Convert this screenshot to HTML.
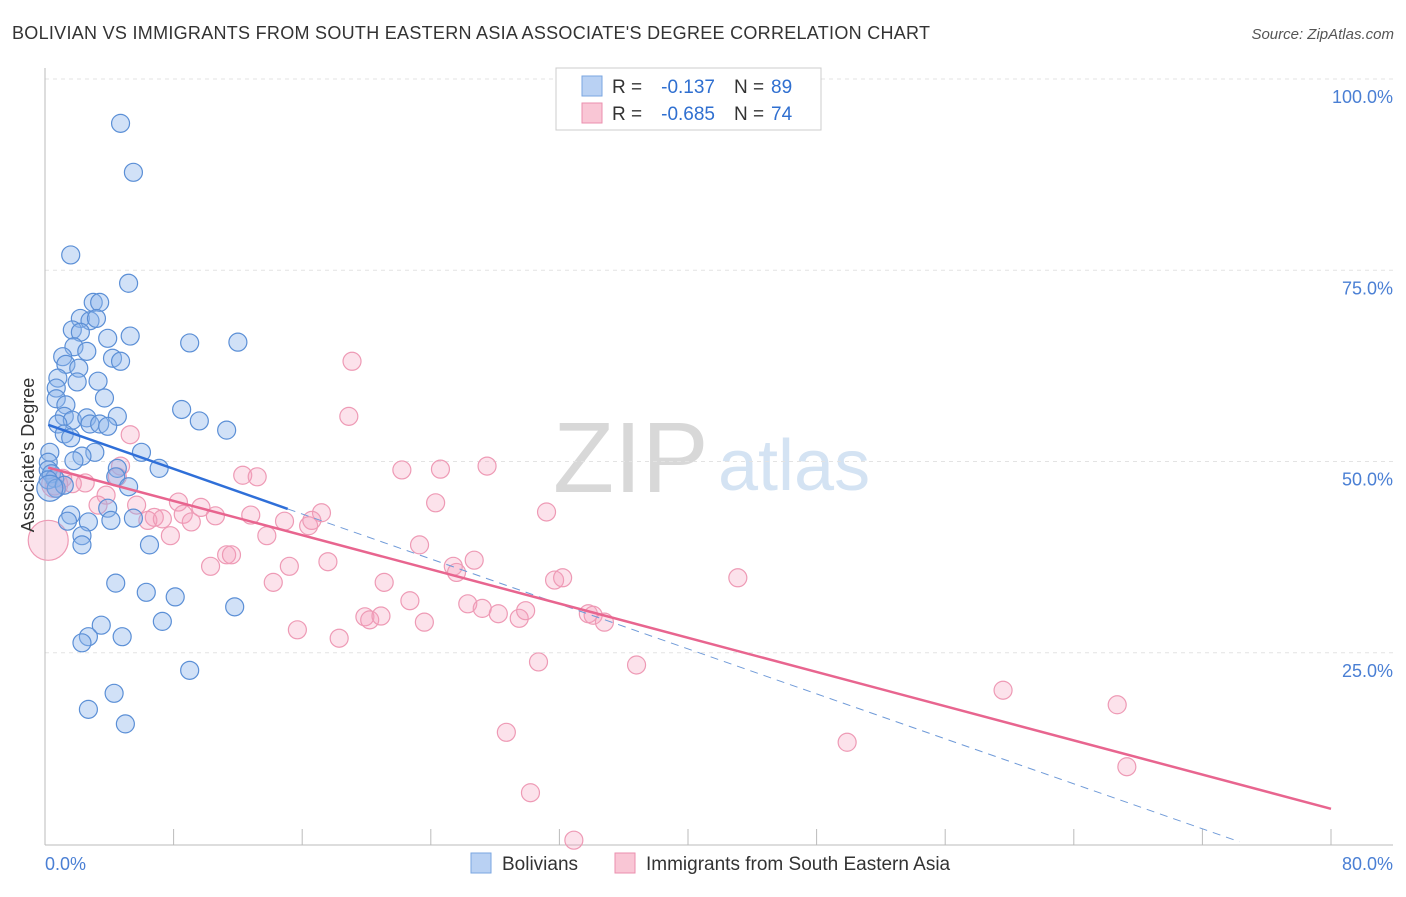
<!DOCTYPE html>
<html><head><meta charset="utf-8"><style>
body{margin:0;background:#fff;font-family:"Liberation Sans",sans-serif;}
svg text{font-family:"Liberation Sans",sans-serif;}
</style></head><body>
<svg id="chart" width="1406" height="892" xmlns="http://www.w3.org/2000/svg">
<text x="12" y="39" font-size="18" fill="#333" textLength="918">BOLIVIAN VS IMMIGRANTS FROM SOUTH EASTERN ASIA ASSOCIATE'S DEGREE CORRELATION CHART</text>
<text x="1394" y="39" font-size="15" fill="#555" text-anchor="end" font-style="italic">Source: ZipAtlas.com</text>
<text x="553" y="492" font-size="100" fill="#d8d8d8" font-family="Liberation Serif">ZIP</text>
<text x="718" y="490" font-size="72" fill="#d4e3f3">atlas</text>
<g id="grid"></g><g id="marks"></g>
<text transform="translate(34,455) rotate(-90)" font-size="18" fill="#333" text-anchor="middle">Associate's Degree</text>
<text x="45" y="870" font-size="18" fill="#4a7fd4">0.0%</text>
<text x="1393" y="870" font-size="18" fill="#4a7fd4" text-anchor="end">80.0%</text>
<g>
<rect x="556" y="68" width="265" height="62" fill="#fff" stroke="#ccc"/>
<rect x="582" y="76" width="20" height="20" fill="#b9d1f3" stroke="#7aa6e0"/>
<rect x="582" y="103" width="20" height="20" fill="#f9c6d5" stroke="#eb8fae"/>
<text x="612" y="93" font-size="19" fill="#333">R =</text>
<text x="715" y="93" font-size="19" fill="#2f6fd0" text-anchor="end">-0.137</text>
<text x="734" y="93" font-size="19" fill="#333">N =</text>
<text x="771" y="93" font-size="19" fill="#2f6fd0">89</text>
<text x="612" y="120" font-size="19" fill="#333">R =</text>
<text x="715" y="120" font-size="19" fill="#2f6fd0" text-anchor="end">-0.685</text>
<text x="734" y="120" font-size="19" fill="#333">N =</text>
<text x="771" y="120" font-size="19" fill="#2f6fd0">74</text>
</g>
<g>
<rect x="471" y="853" width="20" height="20" fill="#b9d1f3" stroke="#7aa6e0"/>
<text x="502" y="870" font-size="19" fill="#333">Bolivians</text>
<rect x="615" y="853" width="20" height="20" fill="#f9c6d5" stroke="#eb8fae"/>
<text x="646" y="870" font-size="19" fill="#333">Immigrants from South Eastern Asia</text>
</g>
</svg>
<script>
const yTicks=[25,50,75,100];
const yTickLabels=["25.0%","50.0%","75.0%","100.0%"];
const blueX=[4.7,5.5,1.6,5.2,3.0,3.4,2.2,2.8,3.2,1.7,2.2,3.9,5.3,9.0,12.0,1.8,2.6,1.1,4.2,4.7,1.3,2.1,0.8,2.0,3.3,0.7,3.7,0.7,1.3,8.5,1.2,1.7,4.5,2.6,9.6,0.8,2.8,3.4,3.9,11.3,1.2,1.6,6.0,3.1,0.3,2.3,1.8,0.2,7.1,4.5,4.4,0.2,0.4,0.6,0.2,0.7,1.2,5.2,3.9,1.6,5.5,4.1,1.4,2.7,2.3,2.3,6.5,4.4,6.3,8.1,11.8,7.3,3.5,2.7,4.8,2.3,9.0,4.3,2.7,5.0,0.3];
const blueY=[94.2,87.8,77.0,73.3,70.8,70.8,68.7,68.4,68.7,67.2,66.9,66.1,66.4,65.5,65.6,65.0,64.4,63.7,63.5,63.1,62.7,62.2,60.9,60.4,60.5,59.6,58.3,58.2,57.4,56.8,55.9,55.4,55.9,55.7,55.3,54.9,54.9,54.9,54.6,54.1,53.6,53.1,51.2,51.2,51.2,50.7,50.1,49.9,49.1,49.1,48.0,48.9,48.4,47.8,47.6,46.5,46.9,46.7,43.9,43.0,42.6,42.3,42.2,42.1,40.3,39.1,39.1,34.1,32.9,32.3,31.0,29.1,28.6,27.1,27.1,26.3,22.7,19.7,17.6,15.7,46.5];
const blueR=[9,9,9,9,9,9,9,9,9,9,9,9,9,9,9,9,9,9,9,9,9,9,9,9,9,9,9,9,9,9,9,9,9,9,9,9,9,9,9,9,9,9,9,9,9,9,9,9,9,9,9,9,9,9,9,9,9,9,9,9,9,9,9,9,9,9,9,9,9,9,9,9,9,9,9,9,9,9,9,9,13];
const pinkX=[19.1,18.9,5.3,4.7,12.3,13.2,22.2,24.6,27.5,4.5,2.5,1.1,1.7,0.6,3.8,8.3,9.7,3.3,5.7,24.3,6.8,6.4,7.3,8.6,9.1,10.6,12.8,14.9,16.4,17.2,16.6,31.2,7.8,13.8,0.2,23.3,11.3,11.6,17.6,26.7,25.4,25.6,10.3,15.2,31.7,32.2,43.1,14.2,21.1,22.7,26.3,27.2,28.2,29.5,29.9,19.9,20.2,20.9,23.6,33.8,34.1,34.8,15.7,18.3,30.7,36.8,59.6,66.7,28.7,49.9,67.3,30.2,32.9,0.6];
const pinkY=[63.1,55.9,53.5,49.4,48.2,48.0,48.9,49.0,49.4,48.0,47.2,47.8,47.1,46.8,45.6,44.7,44.0,44.3,44.3,44.6,42.7,42.3,42.5,43.1,42.1,42.9,43.0,42.2,41.6,43.3,42.3,43.4,40.3,40.3,39.7,39.1,37.8,37.8,36.9,37.1,36.3,35.5,36.3,36.3,34.5,34.8,34.8,34.2,34.2,31.8,31.4,30.8,30.1,29.5,30.5,29.7,29.3,29.8,29.0,30.1,29.9,29.0,28.0,26.9,23.8,23.4,20.1,18.2,14.6,13.3,10.1,6.7,0.5,47.0];
const pinkR=[9,9,9,9,9,9,9,9,9,9,9,9,9,9,9,9,9,9,9,9,9,9,9,9,9,9,9,9,9,9,9,9,9,9,20,9,9,9,9,9,9,9,9,9,9,9,9,9,9,9,9,9,9,9,9,9,9,9,9,9,9,9,9,9,9,9,9,9,9,9,9,9,9,13];
const blueTrend=[[0.2,54.8],[15.1,43.8]];
const blueDash=[[15.1,43.8],[74.3,0.3]];
const pinkTrend=[[0.2,49.2],[80,4.6]];
const X=v=>45+v/80*1286, Y=v=>844-v/100*765;
const NS="http://www.w3.org/2000/svg";
const grid=document.getElementById('grid'), marks=document.getElementById('marks');
function mk(tag,attrs,parent){const e=document.createElementNS(NS,tag);for(const k in attrs)e.setAttribute(k,attrs[k]);parent.appendChild(e);return e;}
yTicks.forEach((t,i)=>{
  const l=mk('line',{x1:45,x2:1393,y1:Y(t),y2:Y(t),stroke:'#e3e3e3','stroke-dasharray':'4 4'},grid);
  
  
  const tx=mk('text',{x:1393,y:Y(t)+24,'font-size':18,fill:'#4a7fd4','text-anchor':'end'},grid);
  tx.textContent=yTickLabels[i];
  
  
});
const ax=mk('line',{x1:45,x2:1393,y1:845,y2:845,stroke:'#bbb'},grid);


const ay=mk('line',{x1:45,x2:45,y1:68,y2:845,stroke:'#bbb'},grid);


for(let i=0;i<=10;i++){
  const t=mk('line',{x1:X(i*8),x2:X(i*8),y1:829,y2:845,stroke:'#bbb'},grid);
  
  
}
pinkX.forEach((x,i)=>{
  const c=mk('circle',{cx:X(x),cy:Y(pinkY[i]),r:pinkR[i],fill:'rgba(244,160,188,0.3)',stroke:'#ee9ab5','stroke-width':1.2},marks);
  
  
});
blueX.forEach((x,i)=>{
  const c=mk('circle',{cx:X(x),cy:Y(blueY[i]),r:blueR[i],fill:'rgba(140,180,235,0.4)',stroke:'#5b8fd6','stroke-width':1.2},marks);
  
  
});
const bl=mk('line',{x1:X(blueTrend[0][0]),y1:Y(blueTrend[0][1]),x2:X(blueTrend[1][0]),y2:Y(blueTrend[1][1]),stroke:'#2f6fd8','stroke-width':2.5},marks);


const bd=mk('line',{x1:X(blueDash[0][0]),y1:Y(blueDash[0][1]),x2:X(blueDash[1][0]),y2:Y(blueDash[1][1]),stroke:'#6f9ad8','stroke-width':1,'stroke-dasharray':'8 6'},marks);


const pl=mk('line',{x1:X(pinkTrend[0][0]),y1:Y(pinkTrend[0][1]),x2:X(pinkTrend[1][0]),y2:Y(pinkTrend[1][1]),stroke:'#e8658f','stroke-width':2.5},marks);


</script>
</body></html>
